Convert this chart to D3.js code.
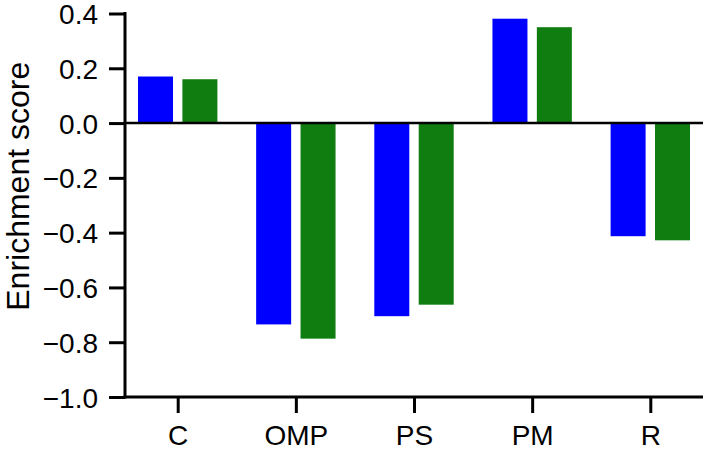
<!DOCTYPE html>
<html>
<head>
<meta charset="utf-8">
<script src="https://cdn.jsdelivr.net/npm/d3@7"></script>
<style>
  body { margin: 0; background: #fff; }
  text { font-family: "Liberation Sans", Arial, sans-serif; fill: #000; }
</style>
</head>
<body>
<svg id="chart"></svg>
<script>
const width = 707, height = 452

const categories = ["C", "OMP", "PS", "PM", "R"]
const seriesA = [0.170, -0.735, -0.705, 0.381, -0.413]   // blue
const seriesB = [0.160, -0.787, -0.663, 0.350, -0.428]   // green
const yTicks = [0.4, 0.2, 0.0, -0.2, -0.4, -0.6, -0.8, -1.0]

const axisLeftX = 125, axisRightX = 703
const barW = 35, offset = 22.2

const svg = d3.select("svg#chart")
    .attr("width", width)
    .attr("height", height)

const yScale = d3.scaleLinear()
    .domain([-1.0, 0.4])
    .range([397, 13.5])

const xScale = d3.scalePoint()
    .domain(categories)
    .range([axisLeftX, axisRightX])
    .padding(0.446)

const colors = ["#0000ff", "#0f7d0f"]
const series = [seriesA, seriesB]

// Bars
series.forEach((vals, s) => {
    svg.append("g")
        .selectAll("rect")
        .data(vals.map((v, i) => ({cat: categories[i], v})))
        .enter()
        .append("rect")
        .attr("x", d => xScale(d.cat) + (s === 0 ? -offset : offset) - barW / 2)
        .attr("y", d => yScale(Math.max(0, d.v)))
        .attr("width", barW)
        .attr("height", d => Math.abs(yScale(d.v) - yScale(0)))
        .attr("fill", colors[s])
})

// Zero line
svg.append("line")
    .attr("x1", axisLeftX).attr("x2", axisRightX)
    .attr("y1", yScale(0)).attr("y2", yScale(0))
    .attr("stroke", "#000").attr("stroke-width", 2.5)

// Y axis
const yAxis = svg.append("g")
    .attr("transform", `translate(${axisLeftX},0)`)
    .call(d3.axisLeft(yScale).tickValues(yTicks).tickFormat(d3.format(".1f")).tickSize(16).tickPadding(11))
yAxis.select(".domain").remove()
yAxis.selectAll(".tick line").attr("stroke-width", 3)
yAxis.selectAll(".tick text").attr("font-size", 28).attr("dy", "0.36em")
    .attr("font-family", "Liberation Sans, Arial, sans-serif")
yAxis.append("line")
    .attr("x1", 0).attr("x2", 0)
    .attr("y1", yScale(0.4) - 1.5).attr("y2", yScale(-1.0) + 1.5)
    .attr("stroke", "#000").attr("stroke-width", 3)

// X axis
const xAxis = svg.append("g")
    .attr("transform", `translate(0,${yScale(-1.0)})`)
    .call(d3.axisBottom(xScale).tickSize(16).tickPadding(12))
xAxis.select(".domain").remove()
xAxis.selectAll(".tick line").attr("stroke-width", 3)
xAxis.selectAll(".tick text").attr("font-size", 28)
    .attr("font-family", "Liberation Sans, Arial, sans-serif")
xAxis.append("line")
    .attr("x1", axisLeftX - 1.5).attr("x2", axisRightX)
    .attr("y1", 0).attr("y2", 0)
    .attr("stroke", "#000").attr("stroke-width", 3)

// Y title
svg.append("text")
    .attr("transform", `translate(29,${(yScale(0.4) + yScale(-1.0)) / 2 - 19}) rotate(-90)`)
    .attr("text-anchor", "middle")
    .attr("font-size", 32)
    .text("Enrichment score")
</script>
</body>
</html>
